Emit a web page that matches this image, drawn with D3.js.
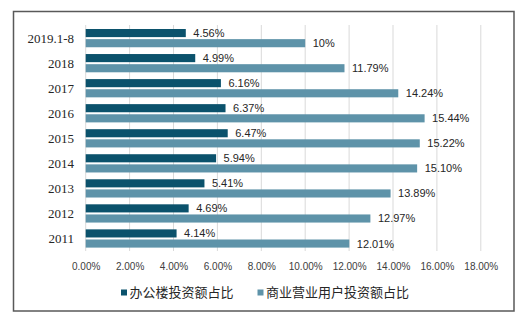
<!DOCTYPE html>
<html><head><meta charset="utf-8">
<script src="https://cdn.jsdelivr.net/npm/d3@7/dist/d3.min.js"></script>
<style>body{margin:0;background:#fff}svg{display:block}</style>
</head><body><svg id="c" width="526" height="326"></svg>
<script>
const categories = ["2019.1-8","2018","2017","2016","2015","2014","2013","2012","2011"];
const officeValues = [4.56,4.99,6.16,6.37,6.47,5.94,5.41,4.69,4.14];
const commercialValues = [10,11.79,14.24,15.44,15.22,15.10,13.89,12.97,12.01];
const officeLabels = ["4.56%","4.99%","6.16%","6.37%","6.47%","5.94%","5.41%","4.69%","4.14%"];
const commercialLabels = ["10%","11.79%","14.24%","15.44%","15.22%","15.10%","13.89%","12.97%","12.01%"];
const tickValues = [0,2,4,6,8,10,12,14,16,18];
const seriesNames = ["办公楼投资额占比","商业营业用户投资额占比"];
const colors = ["#0b526c","#5e93a9"];

const svg = d3.select("#c");
svg.append("rect").attr("x",13.5).attr("y",11.5).attr("width",500.5).attr("height",299.5)
  .attr("fill","#fff").attr("stroke","#595959").attr("stroke-width",1.5);

const x = d3.scaleLinear().domain([0,18]).range([85.7,480.8]);
const y = d3.scaleBand().domain(categories).range([25.6,251]).paddingInner(0).paddingOuter(0);
const inner = d3.scaleBand().domain([0,1]).range([3.4, y.bandwidth()-3.4]).paddingInner(0.2);

// gridlines
svg.append("g").selectAll("line").data(tickValues).join("line")
  .attr("x1",d=>x(d)).attr("x2",d=>x(d)).attr("y1",25).attr("y2",251)
  .attr("stroke","#d9d9d9").attr("stroke-width",1);

// x axis labels
const xa = svg.append("g").attr("transform","translate(0,260)")
  .call(d3.axisBottom(x).tickValues(tickValues).tickSize(0).tickFormat(d=>d.toFixed(2)+"%"));
xa.select(".domain").remove();
xa.selectAll("text").attr("font-family","Liberation Sans, Arial, sans-serif").attr("font-size",10).attr("fill","#404040");

// y axis labels
const ya = svg.append("g").attr("transform","translate(77,0)")
  .call(d3.axisLeft(y).tickSize(0));
ya.select(".domain").remove();
ya.selectAll("text").attr("font-family","Liberation Serif, serif").attr("font-size",13).attr("fill","#262626").attr("dy","0.35em");

const series = [officeValues, commercialValues];
const labels = [officeLabels, commercialLabels];
series.forEach((vals,si)=>{
  const g = svg.append("g");
  g.selectAll("rect").data(vals).join("rect")
    .attr("x",x(0)).attr("y",(d,i)=>y(categories[i])+inner(si))
    .attr("width",d=>x(d)-x(0)).attr("height",inner.bandwidth())
    .attr("fill",colors[si]);
  g.selectAll("text").data(vals).join("text")
    .attr("x",d=>x(d)+7.5).attr("y",(d,i)=>y(categories[i])+inner(si)+inner.bandwidth()/2)
    .attr("dy","0.36em")
    .attr("font-family","Liberation Sans, Arial, sans-serif").attr("font-size",11).attr("fill","#262626")
    .text((d,i)=>labels[si][i]);
});

// legend
const legX = [121, 257.5];
seriesNames.forEach((n,i)=>{
  svg.append("rect").attr("x",legX[i]).attr("y",289.5).attr("width",6).attr("height",6).attr("fill",colors[i]);
  svg.append("text").attr("x",legX[i]+8.5).attr("y",292.7).attr("dy","0.36em")
    .attr("font-family","Noto Sans CJK SC, sans-serif").attr("font-size",13).attr("fill","#262626").text(n);
});
</script></body></html>
